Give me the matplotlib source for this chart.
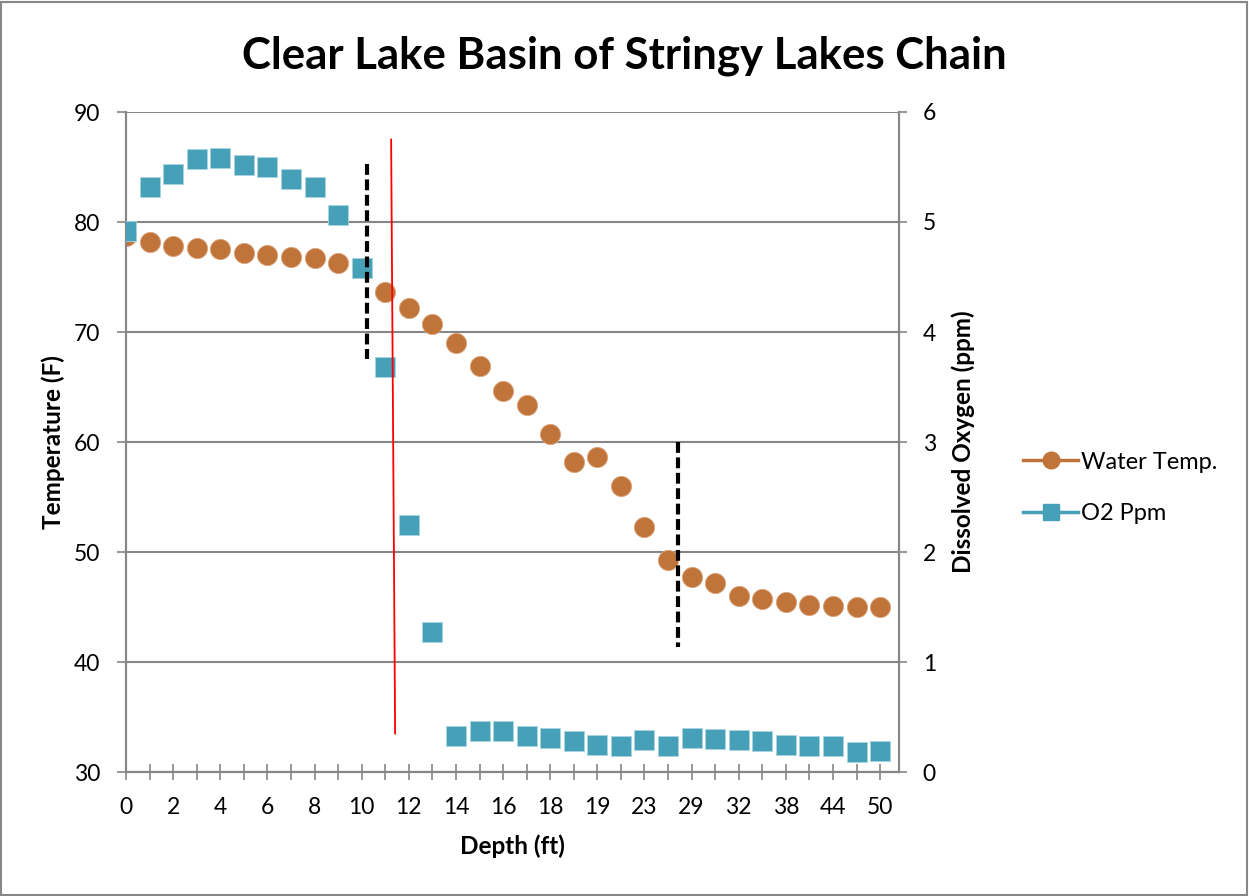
import matplotlib.pyplot as plt
from matplotlib.lines import Line2D
from matplotlib.patches import Rectangle

# dados
profundidade = ['0', '1', '2', '3', '4', '5', '6', '7', '8', '9', '10', '11', '12', '13',
                '14', '15', '16', '17', '18', '18.5', '19', '21', '23', '26', '29', '30',
                '32', '35', '38', '41', '44', '47', '50']
temp_agua = [78.7, 78.2, 77.8, 77.6, 77.5, 77.2, 77.0, 76.8, 76.7, 76.3, 75.8, 73.6, 72.2,
             70.7, 69.0, 66.9, 64.6, 63.4, 60.7, 58.2, 58.6, 56.0, 52.3, 49.3, 47.7, 47.2,
             46.0, 45.7, 45.5, 45.2, 45.1, 45.0, 45.0]
o2_ppm = [4.92, 5.32, 5.44, 5.57, 5.58, 5.52, 5.50, 5.39, 5.32, 5.06, 4.58, 3.68, 2.25,
          1.27, 0.33, 0.37, 0.37, 0.33, 0.31, 0.28, 0.25, 0.24, 0.29, 0.24, 0.31, 0.30,
          0.29, 0.28, 0.25, 0.24, 0.24, 0.18, 0.19]

# linhas de marcacao (posicao da categoria, temperatura)
tracejado_1 = ([10.24, 10.24], [85.3, 67.5])
tracejado_2 = ([23.43, 23.43], [60.0, 41.4])
linha_vermelha = ([11.25, 11.42], [87.5, 33.5])

cor_temp = '#C0743A'
cor_o2 = '#46A0B8'
cinza = '#868686'

plt.rcParams['font.family'] = ['Lato', 'DejaVu Sans']

fig = plt.figure(figsize=(12.49, 8.96), dpi=100)
ax = fig.add_axes([126 / 1249, 1 - 772 / 896, (899 - 126) / 1249, (772 - 112) / 896])
ax2 = ax.twinx()

x = list(range(len(profundidade)))

ax.plot(x, temp_agua, linestyle='none', marker='o', markersize=14.5,
        color=cor_temp, markeredgecolor='#D9A27A', markeredgewidth=0.6, zorder=3)
ax2.plot(x, o2_ppm, linestyle='none', marker='s', markersize=14.5,
         color=cor_o2, markeredgecolor='#A8D4E0', markeredgewidth=0.6, zorder=3)

# linhas desenhadas por cima (coordenadas do eixo da temperatura)
ax2.plot(*tracejado_1, transform=ax.transData, color='black', linewidth=3,
         linestyle=(0, (2.6, 1.1)), zorder=5)
ax2.plot(*tracejado_2, transform=ax.transData, color='black', linewidth=3,
         linestyle=(0, (2.6, 1.1)), zorder=5)
ax2.plot(*linha_vermelha, transform=ax.transData, color='red', linewidth=1.3, zorder=5)

ax.set_xlim(0, 32.8)
ax.set_ylim(30, 90)
ax2.set_ylim(0, 6)
ax.set_yticks(range(30, 91, 10))
ax2.set_yticks(range(0, 7))
ax.set_xticks(x)
ax.set_xticklabels([p if i % 2 == 0 else '' for i, p in enumerate(profundidade)])

ax.grid(axis='y', color=cinza, linewidth=1.5)
ax.set_axisbelow(True)
for a in (ax, ax2):
    a.spines['top'].set_visible(False)
    for s in ('left', 'right', 'bottom'):
        a.spines[s].set_color(cinza)
        a.spines[s].set_linewidth(1.5)

ax.tick_params(axis='y', length=6.5, width=1.2, color=cinza, pad=12, labelsize=16.5)
ax2.tick_params(axis='y', length=6, width=1.2, color=cinza, pad=11, labelsize=16.5)
ax.tick_params(axis='x', direction='inout', length=12, width=1.2, color=cinza, pad=12,
               labelsize=16.5)

ax.set_xlabel('Depth (ft)', fontsize=17.5, fontweight='bold', labelpad=12)
ax.set_ylabel('Temperature (F)', fontsize=17.5, fontweight='bold', labelpad=6)
ax2.set_ylabel('Dissolved Oxygen (ppm)', fontsize=17.5, fontweight='bold', labelpad=11)

fig.text(624 / 1249, 1 - 56 / 896, 'Clear Lake Basin of Stringy Lakes Chain',
         ha='center', va='center', fontsize=31.5, fontweight='bold')

handles = [Line2D([], [], color=cor_temp, linewidth=2.5, marker='o', markersize=12),
           Line2D([], [], color=cor_o2, linewidth=2.5, marker='s', markersize=12)]
fig.legend(handles, ['Water Temp.', 'O2 Ppm'], loc='center left',
           bbox_to_anchor=(1014 / 1249, 1 - 488 / 896), frameon=False, fontsize=17,
           handlelength=2.3, handletextpad=0.12, labelspacing=1.3, borderaxespad=0)

# borda da area do grafico
fig.patches.append(Rectangle((0.001, 0.001), 0.997, 0.997, transform=fig.transFigure,
                             fill=False, edgecolor=cinza, linewidth=1.5))

plt.savefig('out.png', dpi=100)
